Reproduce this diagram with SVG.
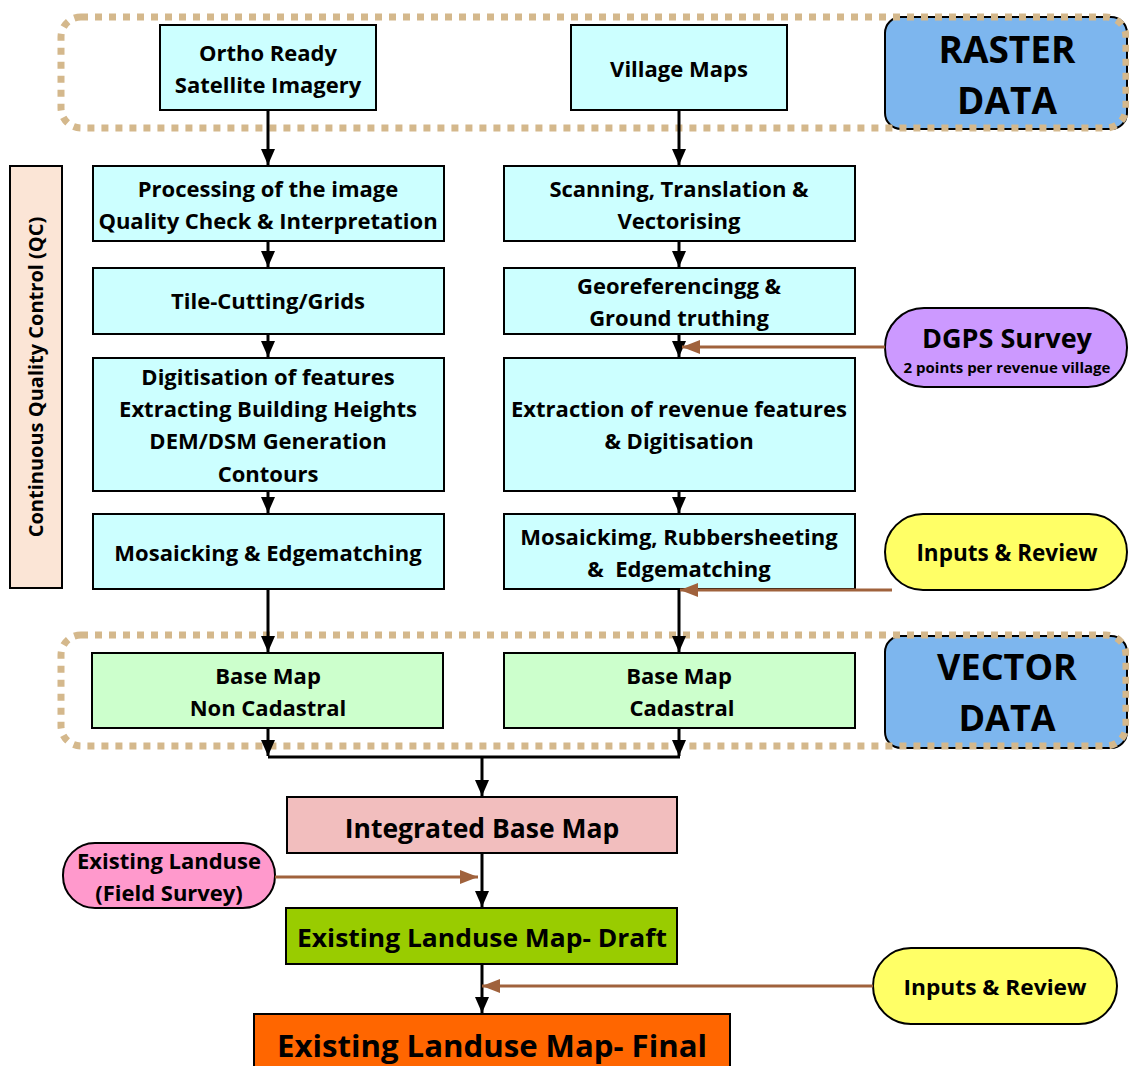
<svg xmlns="http://www.w3.org/2000/svg" width="1129" height="1066" viewBox="0 0 1129 1066">
<defs>
<style>
text{font-family:"Open Sans","Liberation Sans",sans-serif;font-weight:bold;fill:#000;text-anchor:middle}
.t{font-size:22px}
.box{stroke:#000;stroke-width:2}
.cy{fill:#CCFFFF}
.gr{fill:#CCFFCC}
.dash{fill:none;stroke:#D4B88C;stroke-width:7;stroke-dasharray:7 7}
.ln{stroke:#000;stroke-width:3;fill:none}
.br{stroke:#A0623C;stroke-width:3;fill:none}
</style>
<marker id="ab2" markerWidth="16" markerHeight="16" refX="16" refY="8" orient="auto" markerUnits="userSpaceOnUse" viewBox="0 0 16 16"><path d="M0,1 L16,8 L0,15 Z" fill="#000"/></marker>
<marker id="abr" markerWidth="18" markerHeight="14" refX="18" refY="7" orient="auto" markerUnits="userSpaceOnUse" viewBox="0 0 18 14"><path d="M0,0 L18,7 L0,14 Z" fill="#A0623C"/></marker>
</defs>
<rect width="1129" height="1066" fill="#fff"/>

<g id="raster-data">
<rect x="885" y="17" width="242" height="112" rx="16" fill="#7DB6EE" stroke="#000" stroke-width="2"/>
<text x="1007" y="63" style="font-size:37px">RASTER</text>
<text x="1007" y="114" style="font-size:37px">DATA</text>
</g>
<g id="vector-data">
<rect x="885" y="636" width="242" height="112" rx="16" fill="#7DB6EE" stroke="#000" stroke-width="2"/>
<text x="1007" y="680" style="font-size:36px">VECTOR</text>
<text x="1007" y="731" style="font-size:36px">DATA</text>
</g>
<g id="raster-group"><rect class="dash" x="61" y="17" width="1065" height="111" rx="20"/></g>
<g id="vector-group"><rect class="dash" x="61" y="635" width="1065" height="111" rx="20"/></g>

<g id="qc">
<rect x="10" y="166" width="52" height="422" fill="#FBE5D6" stroke="#000" stroke-width="2"/>
<text transform="translate(43,377) rotate(-90)" style="font-size:20px">Continuous Quality Control (QC)</text>
</g>

<g id="ortho"><rect class="box cy" x="160" y="25" width="216" height="85"/>
<text class="t" x="268" y="61">Ortho Ready</text><text class="t" x="268" y="93">Satellite Imagery</text></g>
<g id="village"><rect class="box cy" x="571" y="25" width="216" height="85"/>
<text class="t" x="679" y="77">Village Maps</text></g>

<g id="processing"><rect class="box cy" x="93" y="166" width="351" height="75"/>
<text class="t" x="268" y="197">Processing of the image</text><text class="t" x="268" y="229">Quality Check &amp; Interpretation</text></g>
<g id="scanning"><rect class="box cy" x="504" y="166" width="351" height="75"/>
<text class="t" x="679" y="197">Scanning, Translation &amp;</text><text class="t" x="679" y="229">Vectorising</text></g>

<g id="tile"><rect class="box cy" x="93" y="268" width="351" height="66"/>
<text class="t" x="268" y="309">Tile-Cutting/Grids</text></g>
<g id="georef"><rect class="box cy" x="504" y="268" width="351" height="66"/>
<text class="t" x="679" y="294">Georeferencingg &amp;</text><text class="t" x="679" y="326">Ground truthing</text></g>

<g id="digitisation"><rect class="box cy" x="93" y="358" width="351" height="133"/>
<text class="t" x="268" y="385">Digitisation of features</text>
<text class="t" x="268" y="417">Extracting Building Heights</text>
<text class="t" x="268" y="449">DEM/DSM Generation</text>
<text class="t" x="268" y="482">Contours</text></g>
<g id="extraction"><rect class="box cy" x="504" y="358" width="351" height="133"/>
<text class="t" x="679" y="417">Extraction of revenue features</text>
<text class="t" x="679" y="449">&amp; Digitisation</text></g>

<g id="mosaicking"><rect class="box cy" x="93" y="514" width="351" height="75"/>
<text class="t" x="268" y="561">Mosaicking &amp; Edgematching</text></g>
<g id="mosaickimg"><rect class="box cy" x="504" y="514" width="351" height="75"/>
<text class="t" x="679" y="545">Mosaickimg, Rubbersheeting</text>
<text class="t" x="679" y="577" xml:space="preserve">&amp;  Edgematching</text></g>

<g id="base-noncad"><rect class="box gr" x="92" y="653" width="351" height="75"/>
<text class="t" x="268" y="684">Base Map</text><text class="t" x="268" y="716">Non Cadastral</text></g>
<g id="base-cad"><rect class="box gr" x="504" y="653" width="351" height="75"/>
<text class="t" x="679" y="684">Base Map</text><text class="t" x="682" y="716">Cadastral</text></g>

<g id="dgps"><rect x="885" y="308" width="242" height="79" rx="39" fill="#CC99FF" stroke="#000" stroke-width="2"/>
<text x="1007" y="348" style="font-size:27px">DGPS Survey</text>
<text x="1007" y="373" style="font-size:15px">2 points per revenue village</text></g>

<g id="inputs1"><rect x="885" y="514" width="242" height="76" rx="38" fill="#FFFF66" stroke="#000" stroke-width="2"/>
<text x="1007" y="561" style="font-size:22.5px">Inputs &amp; Review</text></g>

<g id="integrated"><rect class="box" x="287" y="797" width="390" height="56" fill="#F2BEBE"/>
<text x="482" y="838" style="font-size:26.5px">Integrated Base Map</text></g>

<g id="existing-landuse"><rect x="63" y="843" width="212" height="65" rx="32" fill="#FF99CC" stroke="#000" stroke-width="2"/>
<text class="t" x="169" y="869">Existing Landuse</text><text class="t" x="169" y="901">(Field Survey)</text></g>

<g id="draft"><rect class="box" x="286" y="908" width="391" height="56" fill="#99CC00"/>
<text x="482" y="947" style="font-size:25px" textLength="370" lengthAdjust="spacingAndGlyphs">Existing Landuse Map- Draft</text></g>

<g id="inputs2"><rect x="873" y="948" width="244" height="76" rx="38" fill="#FFFF66" stroke="#000" stroke-width="2"/>
<text x="995" y="995" style="font-size:22px" textLength="183" lengthAdjust="spacingAndGlyphs">Inputs &amp; Review</text></g>

<g id="final"><rect class="box" x="254" y="1014" width="476" height="60" fill="#FF6600"/>
<text x="492" y="1057" style="font-size:31px" textLength="430" lengthAdjust="spacingAndGlyphs">Existing Landuse Map- Final</text></g>

<g id="connectors">
<line class="ln" x1="268" y1="111" x2="268" y2="165" marker-end="url(#ab2)"/>
<line class="ln" x1="679" y1="111" x2="679" y2="165" marker-end="url(#ab2)"/>
<line class="ln" x1="268" y1="242" x2="268" y2="267" marker-end="url(#ab2)"/>
<line class="ln" x1="679" y1="242" x2="679" y2="267" marker-end="url(#ab2)"/>
<line class="ln" x1="268" y1="335" x2="268" y2="357" marker-end="url(#ab2)"/>
<line class="ln" x1="679" y1="335" x2="679" y2="357" marker-end="url(#ab2)"/>
<line class="ln" x1="268" y1="492" x2="268" y2="513" marker-end="url(#ab2)"/>
<line class="ln" x1="679" y1="492" x2="679" y2="513" marker-end="url(#ab2)"/>
<line class="ln" x1="268" y1="590" x2="268" y2="652" marker-end="url(#ab2)"/>
<line class="ln" x1="679" y1="590" x2="679" y2="652" marker-end="url(#ab2)"/>
<line class="ln" x1="268" y1="729" x2="268" y2="756" marker-end="url(#ab2)"/>
<line class="ln" x1="679" y1="729" x2="679" y2="756" marker-end="url(#ab2)"/>
<polyline class="ln" points="268,757 680,757"/>
<line class="ln" x1="482" y1="757" x2="482" y2="796" marker-end="url(#ab2)"/>
<line class="ln" x1="482" y1="854" x2="482" y2="907" marker-end="url(#ab2)"/>
<line class="ln" x1="482" y1="965" x2="482" y2="1013" marker-end="url(#ab2)"/>
<line class="br" x1="885" y1="347" x2="682" y2="347" marker-end="url(#abr)"/>
<line class="br" x1="892" y1="590" x2="680" y2="590" marker-end="url(#abr)"/>
<line class="br" x1="275" y1="877" x2="478" y2="877" marker-end="url(#abr)"/>
<line class="br" x1="873" y1="986" x2="482" y2="986" marker-end="url(#abr)"/>
</g>
</svg>
